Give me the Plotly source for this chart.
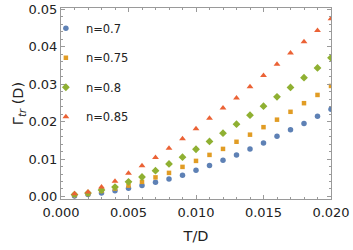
import plotly.graph_objects as go

T = [0.001, 0.002, 0.003, 0.004, 0.005, 0.006, 0.007, 0.008, 0.009, 0.010,
     0.011, 0.012, 0.013, 0.014, 0.015, 0.016, 0.017, 0.018, 0.019, 0.020]

gamma_n070 = [0.0001, 0.0005, 0.0009, 0.0015, 0.0022, 0.0029, 0.0038, 0.0047, 0.0057, 0.0070,
              0.0083, 0.0097, 0.0111, 0.0127, 0.0143, 0.0161, 0.0178, 0.0195, 0.0214, 0.0233]
gamma_n075 = [0.0004, 0.0007, 0.0015, 0.0021, 0.0029, 0.0039, 0.0051, 0.0063, 0.0079, 0.0095,
              0.0111, 0.0127, 0.0146, 0.0165, 0.0185, 0.0205, 0.0226, 0.0249, 0.0271, 0.0295]
gamma_n080 = [0.0005, 0.0009, 0.0017, 0.0025, 0.0039, 0.0052, 0.0069, 0.0087, 0.0105, 0.0126,
              0.0147, 0.0169, 0.0193, 0.0217, 0.0241, 0.0266, 0.0291, 0.0317, 0.0343, 0.0370]
gamma_n085 = [0.0007, 0.0012, 0.0025, 0.0041, 0.0062, 0.0082, 0.0104, 0.0129, 0.0154, 0.0181,
              0.0209, 0.0236, 0.0263, 0.0293, 0.0323, 0.0353, 0.0383, 0.0413, 0.0443, 0.0474]

labels = ["n=0.7", "n=0.75", "n=0.8", "n=0.85"]
colors = ["#5E81B5", "#E19C24", "#8FB032", "#EB6235"]
symbols = ["circle", "square", "diamond", "triangle-up"]
sizes = [5.5, 4.5, 6, 6]
series = [gamma_n070, gamma_n075, gamma_n080, gamma_n085]

fig = go.Figure()
for i, (lab, ys) in enumerate(zip(labels, series)):
    fig.add_trace(go.Scatter(
        x=T, y=ys, mode="markers", name=lab, legendgroup=lab,
        marker=dict(color=colors[i], symbol=symbols[i], size=sizes[i], line=dict(width=0)),
        cliponaxis=True,
    ))

font = "DejaVu Sans, sans-serif"
axis_common = dict(
    showgrid=False, zeroline=False, showline=True, mirror="allticks",
    linecolor="#9a9a9a", linewidth=1, automargin=False,
    ticks="inside", ticklen=4, tickcolor="#9a9a9a", tickwidth=1,
    tickfont=dict(family=font, size=13, color="#222222"),
)

fig.update_layout(
    width=353, height=250,
    margin=dict(l=61, r=22, t=8, b=51),
    paper_bgcolor="white", plot_bgcolor="white",
    font=dict(family=font, color="#222222"),
    xaxis=dict(
        range=[0, 0.020], tickvals=[0.000, 0.005, 0.010, 0.015, 0.020],
        ticktext=["0.000", "0.005", "0.010", "0.015", "0.020"],
        minor=dict(dtick=0.001, ticks="inside", ticklen=2, tickcolor="#9a9a9a"),
        ticklabelstandoff=1,
        title=dict(text="T/D", font=dict(family=font, size=14.5), standoff=12),
        **axis_common,
    ),
    yaxis=dict(
        range=[-0.00067, 0.0503], tickvals=[0.00, 0.01, 0.02, 0.03, 0.04, 0.05],
        ticktext=["0.00", "0.01", "0.02", "0.03", "0.04", "0.05"],
        minor=dict(dtick=0.002, ticks="inside", ticklen=2, tickcolor="#9a9a9a"),
        title=dict(text="Γ<sub><i>tr</i></sub> (D)", font=dict(family=font, size=14.5), standoff=0),
        **axis_common,
    ),
    legend=dict(
        x=-0.056, y=0.97, xanchor="left", yanchor="top",
        bgcolor="rgba(0,0,0,0)", tracegroupgap=10.5,
        font=dict(family=font, size=11.5, color="#222222"),
        itemwidth=30,
    ),
    showlegend=True,
)

fig.write_html(
    "out.html",
    config={"displayModeBar": False, "staticPlot": True},
    post_script="document.body.style.margin='0';document.body.style.overflow='hidden';",
)
